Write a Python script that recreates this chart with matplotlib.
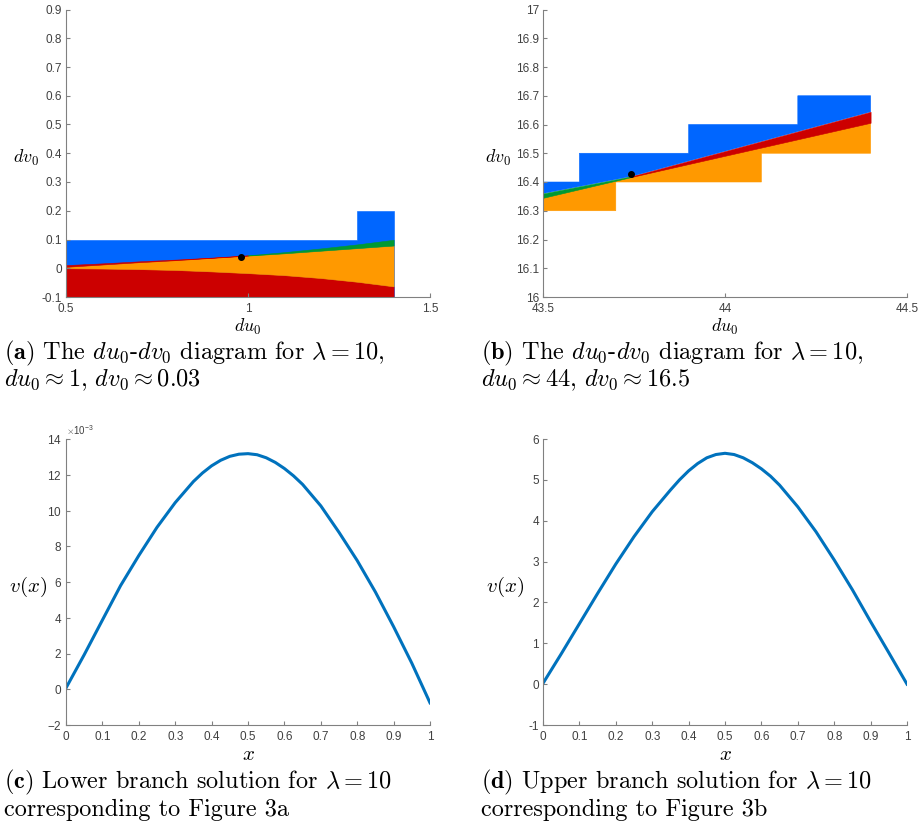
import numpy as np
import matplotlib
matplotlib.use("Agg")
import matplotlib.pyplot as plt
from matplotlib.ticker import FuncFormatter, ScalarFormatter

plt.rcParams['font.family'] = 'Liberation Sans'
plt.rcParams['mathtext.fontset'] = 'cm'
plt.rcParams['axes.unicode_minus'] = False

# ---- data: panel (a), du0 about 1 ----
du_a = [0.5, 0.6, 0.7, 0.8, 0.9, 1.0, 1.1, 1.2, 1.3, 1.4]
orange_low_a = [0.0, -0.001, -0.003, -0.006, -0.011, -0.017, -0.024, -0.034, -0.047, -0.063]
orange_high_a = [0.005, 0.013, 0.021, 0.028, 0.036, 0.044, 0.052, 0.061, 0.070, 0.079]
band_top_a = [0.011, 0.017, 0.024, 0.030, 0.037, 0.045, 0.056, 0.069, 0.083, 0.099]
blue_edges_a = [0.5, 1.3, 1.4]
blue_tops_a = [0.1, 0.2]
point_a = (0.982, 0.040)

# ---- data: panel (b), du0 about 44 ----
blue_edges_b = [43.5, 43.6, 43.9, 44.2, 44.4]
blue_tops_b = [16.4, 16.5, 16.6, 16.7]
orange_edges_b = [43.5, 43.7, 44.1, 44.4]
orange_bottoms_b = [16.3, 16.4, 16.5]
line_x_b = [43.5, 43.745, 44.4]
orange_top_b = [16.345, 16.418, 16.606]
band_top_b = [16.36, 16.42, 16.644]
point_b = (43.743, 16.427)

# ---- data: panels (c) and (d), v(x) ----
x_sol = [0, 0.05, 0.1, 0.15, 0.2, 0.25, 0.3, 0.35, 0.375, 0.4, 0.425, 0.45, 0.475, 0.5,
         0.525, 0.55, 0.575, 0.6, 0.625, 0.65, 0.7, 0.75, 0.8, 0.85, 0.9, 0.95, 1.0]
v_lower = [0.07, 1.93, 3.87, 5.8, 7.48, 9.06, 10.44, 11.62, 12.1, 12.5, 12.81, 13.03, 13.15, 13.18,
           13.12, 12.95, 12.69, 12.35, 11.94, 11.46, 10.26, 8.78, 7.2, 5.44, 3.5, 1.46, -0.76]  # x 1e-3
v_upper = [0.02, 0.74, 1.48, 2.22, 2.94, 3.61, 4.22, 4.75, 5.0, 5.22, 5.4, 5.54, 5.62, 5.65,
           5.62, 5.54, 5.42, 5.27, 5.09, 4.87, 4.34, 3.73, 3.04, 2.31, 1.53, 0.77, 0.0]

BLUE = '#0066FF'
ORANGE = '#FF9900'
RED = '#CC0000'
GREEN = '#009933'
LINE = '#0072BD'
AXC = '#808080'
TXT = '#404040'

W, H = 921, 836
fig = plt.figure(figsize=(W / 100, H / 100), dpi=100)


def px_axes(left, top, right, bottom):
    return fig.add_axes([left / W, 1 - bottom / H, (right - left) / W, (bottom - top) / H])


def style(ax):
    for s in ['top', 'right']:
        ax.spines[s].set_visible(False)
    for s in ['left', 'bottom']:
        ax.spines[s].set_color(AXC)
        ax.spines[s].set_linewidth(0.8)
    ax.tick_params(direction='in', length=3, width=0.8, color=AXC,
                   labelsize=8.5, labelcolor=TXT)
    ax.tick_params(axis='x', pad=4.5)
    ax.tick_params(axis='y', pad=3)


def steps(edges, levels):
    xs, ys = [], []
    for i, lev in enumerate(levels):
        xs += [edges[i], edges[i + 1]]
        ys += [lev, lev]
    return xs, ys


def patch(c):
    return dict(facecolor=c, edgecolor=c, lw=0.4)


fmt_g = FuncFormatter(lambda v, p: '%g' % round(v, 6))

# (a)
ax = px_axes(66, 9.5, 430, 297)
style(ax)
ax.fill_between(blue_edges_a, -0.1, blue_tops_a + [blue_tops_a[-1]], step='post', **patch(BLUE))
ax.fill_between(du_a, -0.1, orange_low_a, **patch(RED))
ax.fill_between(du_a, orange_low_a, orange_high_a, **patch(ORANGE))
ax.fill_between(du_a[:6], orange_high_a[:6], band_top_a[:6], **patch(RED))
ax.fill_between(du_a[5:], orange_high_a[5:], band_top_a[5:], **patch(GREEN))
ax.plot(*point_a, 'o', color='black', ms=4)
ax.set_xlim(0.5, 1.5)
ax.set_ylim(-0.1, 0.9)
ax.set_xticks([0.5, 1, 1.5])
ax.set_yticks(np.arange(-0.1, 0.91, 0.1))
ax.xaxis.set_major_formatter(fmt_g)
ax.yaxis.set_major_formatter(fmt_g)
ax.set_xlabel(r'$du_0$', fontsize=13, va='center')
ax.xaxis.set_label_coords(0.5, (297 - 327) / 287.5)
ax.set_ylabel(r'$dv_0$', fontsize=13, rotation=0, ha='center', va='center')
ax.yaxis.set_label_coords((25.5 - 66) / 364, (297 - 158) / 287.5)

# (b)
ax = px_axes(543, 9.5, 907, 297)
style(ax)
bx, by = steps(blue_edges_b, blue_tops_b)
ax.fill(bx + line_x_b[::-1], by + band_top_b[::-1], **patch(BLUE))
ox, oy = steps(orange_edges_b, orange_bottoms_b)
ax.fill(ox + line_x_b[::-1], oy + orange_top_b[::-1], **patch(ORANGE))
ax.fill_between(line_x_b[:2], orange_top_b[:2], band_top_b[:2], **patch(GREEN))
ax.fill_between(line_x_b[1:], orange_top_b[1:], band_top_b[1:], **patch(RED))
ax.plot(*point_b, 'o', color='black', ms=4)
ax.set_xlim(43.5, 44.5)
ax.set_ylim(16, 17)
ax.set_xticks([43.5, 44, 44.5])
ax.set_yticks(np.arange(16, 17.01, 0.1))
ax.xaxis.set_major_formatter(fmt_g)
ax.yaxis.set_major_formatter(fmt_g)
ax.set_xlabel(r'$du_0$', fontsize=13, va='center')
ax.xaxis.set_label_coords(0.5, (297 - 327) / 287.5)
ax.set_ylabel(r'$dv_0$', fontsize=13, rotation=0, ha='center', va='center')
ax.yaxis.set_label_coords((498 - 543) / 364, (297 - 158) / 287.5)

# (c)
ax = px_axes(66, 439, 430, 725)
style(ax)
ax.plot(x_sol, np.array(v_lower) * 1e-3, color=LINE, lw=2.2)
ax.set_xlim(0, 1)
ax.set_ylim(-2e-3, 14e-3)
ax.set_xticks(np.arange(0, 1.01, 0.1))
ax.set_yticks(np.arange(-2e-3, 14.1e-3, 2e-3))
ax.xaxis.set_major_formatter(fmt_g)
sf = ScalarFormatter(useMathText=True)
sf.set_powerlimits((-3, -3))
ax.yaxis.set_major_formatter(sf)
ax.yaxis.get_offset_text().set_fontsize(7)
ax.yaxis.get_offset_text().set_color(TXT)
ax.set_xlabel(r'$x$', fontsize=15, va='center')
ax.xaxis.set_label_coords(0.5, (725 - 754) / 286)
ax.set_ylabel(r'$v(x)$', fontsize=15, rotation=0, ha='center', va='center')
ax.yaxis.set_label_coords((28 - 66) / 364, (725 - 587) / 286)

# (d)
ax = px_axes(543, 439, 907, 725)
style(ax)
ax.plot(x_sol, v_upper, color=LINE, lw=2.2)
ax.set_xlim(0, 1)
ax.set_ylim(-1, 6)
ax.set_xticks(np.arange(0, 1.01, 0.1))
ax.set_yticks(np.arange(-1, 6.1, 1))
ax.xaxis.set_major_formatter(fmt_g)
ax.yaxis.set_major_formatter(fmt_g)
ax.set_xlabel(r'$x$', fontsize=15, va='center')
ax.xaxis.set_label_coords(0.5, (725 - 754) / 286)
ax.set_ylabel(r'$v(x)$', fontsize=15, rotation=0, ha='center', va='center')
ax.yaxis.set_label_coords((505 - 543) / 364, (725 - 587) / 286)

# captions
cap = dict(fontsize=17.5, family='cmr10', ha='left', va='center')
fig.text(4 / W, 1 - 353 / H, r'$\mathbf{(a)}$ The $du_0$-$dv_0$ diagram for $\lambda = 10$,', **cap)
fig.text(4 / W, 1 - 380 / H, r'$du_0 \approx 1$, $dv_0 \approx 0.03$', **cap)
fig.text(481 / W, 1 - 353 / H, r'$\mathbf{(b)}$ The $du_0$-$dv_0$ diagram for $\lambda = 10$,', **cap)
fig.text(481 / W, 1 - 380 / H, r'$du_0 \approx 44$, $dv_0 \approx 16.5$', **cap)
fig.text(4 / W, 1 - 782 / H, r'$\mathbf{(c)}$ Lower branch solution for $\lambda = 10$', **cap)
fig.text(4 / W, 1 - 810 / H, 'corresponding to Figure 3a', **cap)
fig.text(481 / W, 1 - 782 / H, r'$\mathbf{(d)}$ Upper branch solution for $\lambda = 10$', **cap)
fig.text(481 / W, 1 - 810 / H, 'corresponding to Figure 3b', **cap)

fig.savefig('out.png', dpi=100)
